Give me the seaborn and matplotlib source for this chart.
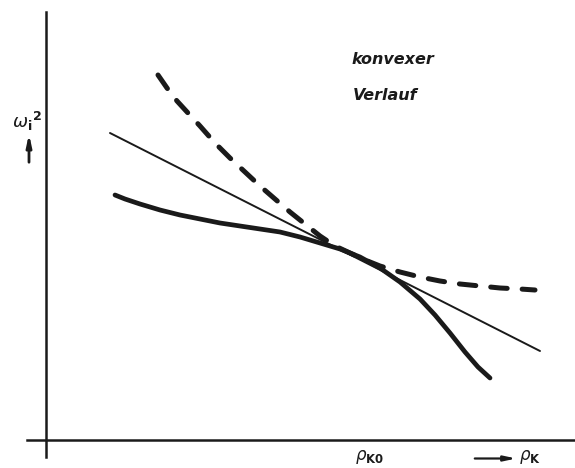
import matplotlib
matplotlib.use("Agg")
import matplotlib.pyplot as plt
import numpy as np
import pandas as pd
import seaborn as sns

sns.set_style("white")
plt.rcParams["font.family"] = ["DejaVu Sans"]

# Curves in drawing units (origin at the axis crossing)
tangent_x = [6.4, 49.4]
tangent_y = [30.7, 8.9]

real_x = [6.9, 7.9, 9.4, 11.4, 13.4, 15.4, 17.4, 19.4, 21.4, 23.4, 25.4, 27.4,
          29.4, 31.4, 33.4, 35.4, 37.4, 38.9, 40.4, 41.9, 43.2, 44.4]
real_y = [24.5, 24.1, 23.6, 23.0, 22.5, 22.1, 21.7, 21.4, 21.1, 20.8, 20.3, 19.7,
          19.1, 18.3, 17.2, 15.8, 14.1, 12.5, 10.7, 8.8, 7.3, 6.2]

convex_x = [11.2, 12.1, 13.1, 14.2, 15.4, 16.9, 18.4, 19.9, 21.4, 22.9, 24.4, 25.9,
            27.4, 28.9, 30.4, 31.9, 33.4, 35.4, 37.4, 39.4, 41.4, 43.4, 45.4, 47.4, 48.9]
convex_y = [36.5, 35.2, 33.9, 32.7, 31.4, 29.7, 28.2, 26.8, 25.4, 24.1, 22.8, 21.6,
            20.4, 19.4, 18.7, 18.0, 17.4, 16.8, 16.3, 15.9, 15.6, 15.4, 15.2, 15.1, 15.0]

tick_x = 30.0

fig = plt.figure(figsize=(5.75, 4.68), dpi=100)
ax = fig.add_axes([0, 0, 1, 1])
ax.set_xlim(-4.6, 52.9)
ax.set_ylim(-2.8, 44.0)

ink = "#1a1a1a"

sns.lineplot(data=pd.DataFrame({"x": tangent_x, "y": tangent_y}), x="x", y="y",
             sort=False, ax=ax, color=ink, lw=1.4, estimator=None)
sns.lineplot(data=pd.DataFrame({"x": real_x, "y": real_y}), x="x", y="y",
             sort=False, ax=ax, color=ink, lw=3.4, estimator=None)
sns.lineplot(data=pd.DataFrame({"x": convex_x, "y": convex_y}), x="x", y="y",
             sort=False, ax=ax, color=ink, lw=3.6, estimator=None,
             linestyle=(0, (3.3, 3.0)))
for ln in ax.get_lines():
    ln.set_solid_capstyle("round")
    ln.set_dash_capstyle("round")
    ln.set_solid_joinstyle("round")
    ln.set_dash_joinstyle("round")

# Axes drawn as crossing spines
for side in ("top", "right"):
    ax.spines[side].set_visible(False)
ax.spines["left"].set_position(("data", 0))
ax.spines["bottom"].set_position(("data", 0))
ax.spines["left"].set_bounds(-1.7, 42.8)
ax.spines["bottom"].set_bounds(-1.9, 52.9)
for side in ("left", "bottom"):
    ax.spines[side].set_linewidth(1.8)
    ax.spines[side].set_color(ink)

ax.set_xticks([tick_x])
ax.set_xticklabels([])
ax.set_yticks([])
ax.tick_params(axis="x", direction="inout", length=12, width=1.3, color=ink)
ax.set_xlabel("")
ax.set_ylabel("")

ax.text(tick_x + 0.9, -1.75, r"$\rho_{\mathbf{K0}}$", fontsize=12, ha="left", va="center",
        color=ink)
ax.annotate("", xy=(47.3, -1.85), xytext=(42.6, -1.85),
            arrowprops=dict(arrowstyle="-|>,head_length=0.7,head_width=0.15", color=ink, lw=1.6))
ax.text(47.3, -1.75, r"$\rho_{\mathbf{K}}$", fontsize=12, ha="left", va="center", color=ink)

ax.text(-1.9, 31.9, r"$\omega_\mathbf{i}{}^\mathbf{2}$", fontsize=13, ha="center", va="center",
        color=ink)
ax.annotate("", xy=(-1.7, 30.9), xytext=(-1.7, 27.5),
            arrowprops=dict(arrowstyle="-|>,head_length=0.7,head_width=0.15", color=ink, lw=2.0))

ax.text(30.5, 38.0, "konvexer", fontsize=11.5, style="italic", fontweight="bold",
        ha="left", va="center", color=ink)
ax.text(30.7, 34.4, "Verlauf", fontsize=11.5, style="italic", fontweight="bold",
        ha="left", va="center", color=ink)

fig.savefig("out.png", dpi=100, facecolor="white")
